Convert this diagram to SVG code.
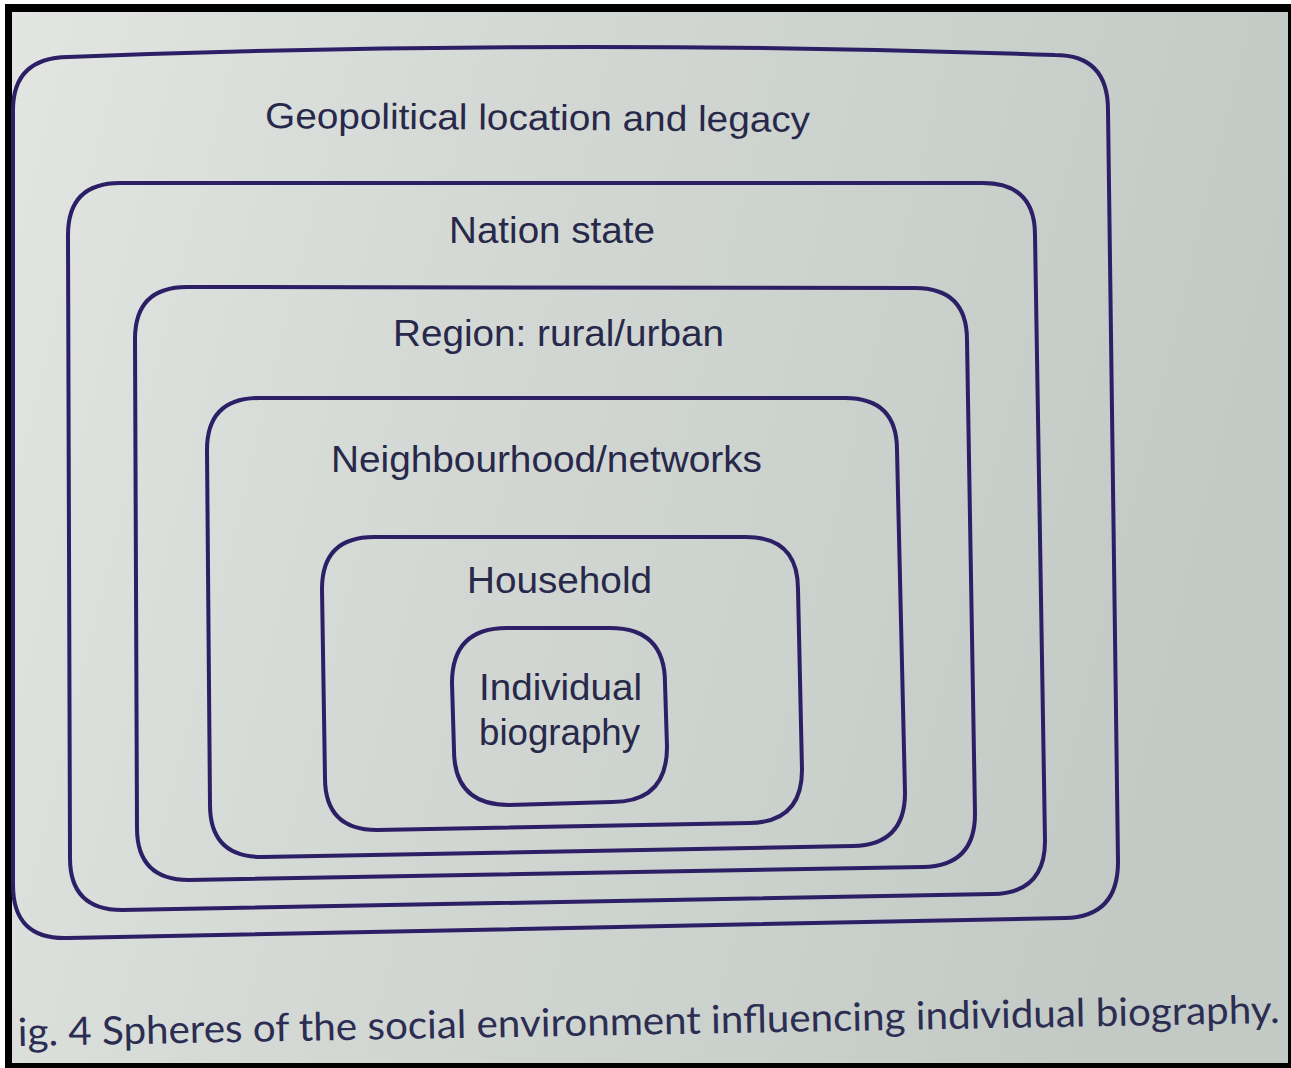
<svg xmlns="http://www.w3.org/2000/svg" width="1291" height="1068" viewBox="0 0 1291 1068">
<defs>
<linearGradient id="bg" x1="0" y1="0" x2="1" y2="0.2">
<stop offset="0" stop-color="#e2e5e2"/>
<stop offset="0.45" stop-color="#d2d7d3"/>
<stop offset="1" stop-color="#c3cac5"/>
</linearGradient>
<style>
.box{fill:none;stroke:#2c1f66;stroke-width:4;stroke-linejoin:round}
.lbl{font-family:"Liberation Sans",Arial,sans-serif;font-size:36px;fill:#27284a}
.cap{font-family:Lato,"Open Sans",sans-serif;font-size:39px;fill:#2c2d52}
</style>
</defs>
<rect x="0" y="0" width="1291" height="1068" fill="#ffffff"/>
<rect x="5" y="4" width="1286" height="1064" fill="#000"/>
<rect x="12" y="12" width="1276" height="1051" fill="url(#bg)"/>
<g id="geopolitical">
<path class="box" d="M13,110 Q13,58 68,57 Q560,38 1055,55 Q1108,55 1108,110 L1118,862 Q1118,917 1065,918 L68,938 Q13,940 13,885 Z"/>
<text class="lbl" x="265" y="128" textLength="545" lengthAdjust="spacingAndGlyphs" transform="rotate(0.4 265 128)">Geopolitical location and legacy</text>
</g>
<g id="nation">
<path class="box" d="M68,235 Q68,183 120,183 L983,183 Q1035,183 1035,235 L1045,841 Q1045,893 993,894 L122,910 Q70,910 70,858 Z"/>
<text class="lbl" x="449" y="243" textLength="206" lengthAdjust="spacingAndGlyphs">Nation state</text>
</g>
<g id="region">
<path class="box" d="M135,339 Q135,287 187,287 L915,288 Q967,288 967,340 L975,814 Q975,866 923,867 L189,880 Q137,880 137,828 Z"/>
<text class="lbl" x="393" y="346" textLength="331" lengthAdjust="spacingAndGlyphs">Region: rural/urban</text>
</g>
<g id="neighbourhood">
<path class="box" d="M207,450 Q207,398 259,398 L845,398 Q897,398 897,450 L905,793 Q905,845 853,846 L262,857 Q210,857 210,805 Z"/>
<text class="lbl" x="331" y="472" textLength="431" lengthAdjust="spacingAndGlyphs">Neighbourhood/networks</text>
</g>
<g id="household">
<path class="box" d="M322,589 Q322,537 374,537 L746,537 Q798,537 798,589 L802,770 Q802,822 750,823 L377,830 Q325,830 325,778 Z"/>
<text class="lbl" x="467" y="593" textLength="185" lengthAdjust="spacingAndGlyphs">Household</text>
</g>
<g id="individual">
<path class="box" d="M452,683 Q452,628 507,628 L610,628 Q665,628 665,683 L667,747 Q667,802 612,802 L509,805 Q454,805 454,750 Z"/>
<text class="lbl" x="479" y="700" textLength="163" lengthAdjust="spacingAndGlyphs">Individual</text>
<text class="lbl" x="479" y="745" textLength="161" lengthAdjust="spacingAndGlyphs">biography</text>
</g>
<g id="connectors"></g>
<text class="cap" x="18" y="1046" textLength="1262" lengthAdjust="spacingAndGlyphs" transform="rotate(-1.05 18 1046)">ig. 4 Spheres of the social environment influencing individual biography.</text>
</svg>
